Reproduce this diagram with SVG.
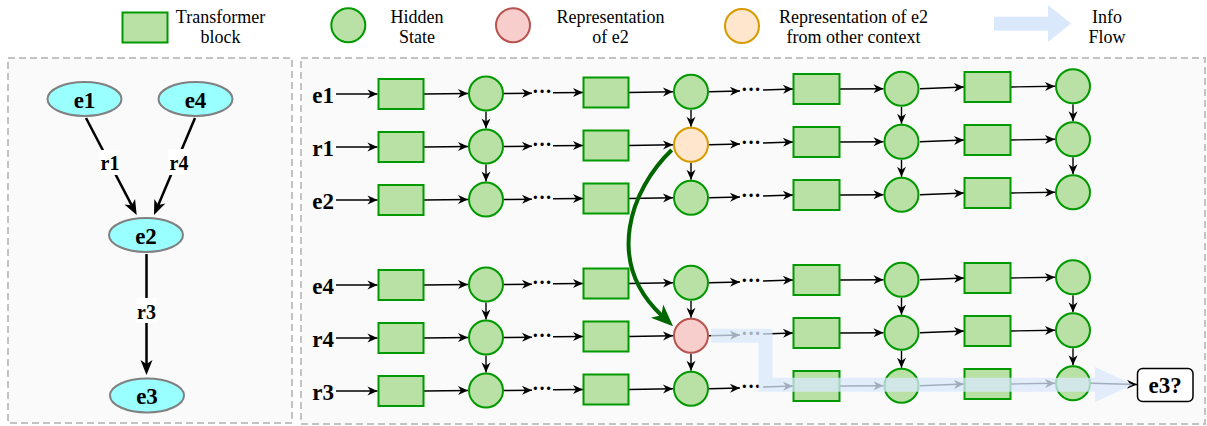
<svg xmlns="http://www.w3.org/2000/svg" width="1207" height="426" viewBox="0 0 1207 426">
<defs>
<style>
.panel{fill:#fafafa;stroke:#c3c3c3;stroke-width:2;stroke-dasharray:7 4}
.g{fill:#b9e0a5;stroke:#009900;stroke-width:2}
.red{fill:#f8cecc;stroke:#b85450;stroke-width:2}
.org{fill:#ffe6cc;stroke:#d79b00;stroke-width:2}
.ent{fill:#99ffff;stroke:#808080;stroke-width:2}
.leg{font-family:"Liberation Serif","Times New Roman",serif;font-size:18px;fill:#000;text-anchor:middle}
.lbl{font-family:"Liberation Serif","Times New Roman",serif;font-weight:bold;font-size:23px;fill:#000}
.el{font-family:"Liberation Serif","Times New Roman",serif;font-weight:bold;font-size:20px;fill:#000;text-anchor:middle}
.dots{font-family:"Liberation Serif","Times New Roman",serif;font-weight:bold;font-size:20px;fill:#000;text-anchor:middle}
.a{stroke:#000;stroke-width:1.4;fill:none;marker-end:url(#ah)}
.ab{stroke:#000;stroke-width:2.5;fill:none;marker-end:url(#ahb)}
.flow{fill:#dae8fc}
</style>
<marker id="ah" markerUnits="userSpaceOnUse" markerWidth="10" markerHeight="9" refX="10" refY="4.5" orient="auto" viewBox="0 0 10 9" overflow="visible"><path d="M0,0 L10,4.5 L0,9 L3,4.5 z" fill="#000"/></marker>
<marker id="ahb" markerUnits="userSpaceOnUse" markerWidth="15" markerHeight="12" refX="4" refY="6" orient="auto" viewBox="0 0 15 12" overflow="visible"><path d="M0,0 L15,6 L0,12 L4,6 z" fill="#000"/></marker>
<marker id="ahg" markerUnits="userSpaceOnUse" markerWidth="22" markerHeight="18" refX="6" refY="9" orient="auto" viewBox="0 0 22 18" overflow="visible"><path d="M0,0 L22,9 L0,18 L6,9 z" fill="#006600"/></marker>
</defs>

<!-- Legend -->
<g id="legend">
  <rect class="g" x="122.5" y="12.5" width="45" height="30"/>
  <text class="leg" x="220.5" y="22.5">Transformer</text>
  <text class="leg" x="220.5" y="43">block</text>
  <circle class="g" cx="348.3" cy="25.3" r="17"/>
  <text class="leg" x="417" y="22.5">Hidden</text>
  <text class="leg" x="417" y="43">State</text>
  <circle class="red" cx="513" cy="25.3" r="17"/>
  <text class="leg" x="610.5" y="22.5">Representation</text>
  <text class="leg" x="610.5" y="43">of e2</text>
  <circle class="org" cx="742" cy="26" r="17"/>
  <text class="leg" x="853.5" y="22.5">Representation of e2</text>
  <text class="leg" x="853.5" y="43">from other context</text>
  <rect class="flow" x="994" y="16.7" width="55" height="14"/>
  <polygon class="flow" points="1048,5 1071,23.5 1048,42"/>
  <text class="leg" x="1107" y="22.5">Info</text>
  <text class="leg" x="1107" y="43">Flow</text>
</g>

<!-- Panels -->
<rect class="panel" x="8" y="58" width="284" height="365"/>
<rect class="panel" x="301" y="58" width="904" height="366"/>

<!-- Left panel graph -->
<g id="kg-edges">
  <path class="ab" d="M86,118 L131.6,205.2"/>
  <path class="ab" d="M195,118 L158.3,204.9"/>
  <path class="ab" d="M146.5,254 L146.5,364"/>
  <rect x="99.5" y="150" width="20" height="25" fill="#fff"/>
  <text class="el" x="110" y="170">r1</text>
  <rect x="168.5" y="149" width="21" height="26" fill="#fff"/>
  <text class="el" x="179" y="170">r4</text>
  <rect x="136.5" y="298" width="20" height="25" fill="#fff"/>
  <text class="el" x="146.5" y="318.5">r3</text>
</g>
<g id="kg-e1"><ellipse class="ent" cx="84.5" cy="99" rx="37" ry="17"/><text class="lbl" x="84.5" y="107.5" text-anchor="middle">e1</text></g>
<g id="kg-e4"><ellipse class="ent" cx="195.5" cy="99" rx="37" ry="17"/><text class="lbl" x="195.5" y="107.5" text-anchor="middle">e4</text></g>
<g id="kg-e2"><ellipse class="ent" cx="146" cy="235" rx="37" ry="17"/><text class="lbl" x="146" y="243.5" text-anchor="middle">e2</text></g>
<g id="kg-e3"><ellipse class="ent" cx="147" cy="395.5" rx="37" ry="17"/><text class="lbl" x="147" y="404" text-anchor="middle">e3</text></g>

<!-- Connectors of the right panel -->
<g id="connectors">
  <!-- row e1 R=94 -->
  <path class="a" d="M336,94 H377.5"/>
  <path class="a" d="M424,94 L468,93.5"/>
  <path class="a" d="M504,93.5 L532,93.2"/>
  <path class="a" d="M553,92.8 L583,92.5"/>
  <path class="a" d="M629,92.5 L673,91.8"/>
  <path class="a" d="M709,91.8 L740,91"/>
  <path class="a" d="M763,90 L793,89"/>
  <path class="a" d="M840,89 L883.5,88.8"/>
  <path class="a" d="M920,88.8 L964,87"/>
  <path class="a" d="M1011,87 L1055,86.3"/>
  <!-- row r1 R=147 -->
  <path class="a" d="M336,147 H377.5"/>
  <path class="a" d="M424,147 L468,146.5"/>
  <path class="a" d="M504,146.5 L532,146.2"/>
  <path class="a" d="M553,145.8 L583,145.5"/>
  <path class="a" d="M629,145.5 L673,144.8"/>
  <path class="a" d="M709,144.8 L740,144"/>
  <path class="a" d="M763,143 L793,142"/>
  <path class="a" d="M840,142 L883.5,141.8"/>
  <path class="a" d="M920,141.8 L964,140"/>
  <path class="a" d="M1011,140 L1055,139.3"/>
  <!-- row e2 R=200 -->
  <path class="a" d="M336,200 H377.5"/>
  <path class="a" d="M424,200 L468,199.5"/>
  <path class="a" d="M504,199.5 L532,199.2"/>
  <path class="a" d="M553,198.8 L583,198.5"/>
  <path class="a" d="M629,198.5 L673,197.8"/>
  <path class="a" d="M709,197.8 L740,197"/>
  <path class="a" d="M763,196 L793,195"/>
  <path class="a" d="M840,195 L883.5,194.8"/>
  <path class="a" d="M920,194.8 L964,193"/>
  <path class="a" d="M1011,193 L1055,192.3"/>
  <!-- row e4 R=285 -->
  <path class="a" d="M336,285 H377.5"/>
  <path class="a" d="M424,285 L468,284.5"/>
  <path class="a" d="M504,284.5 L532,284.2"/>
  <path class="a" d="M553,283.8 L583,283.5"/>
  <path class="a" d="M629,283.5 L673,282.8"/>
  <path class="a" d="M709,282.8 L740,282"/>
  <path class="a" d="M763,281 L793,280"/>
  <path class="a" d="M840,280 L883.5,279.8"/>
  <path class="a" d="M920,279.8 L964,278"/>
  <path class="a" d="M1011,278 L1055,277.3"/>
  <!-- row r4 R=338 -->
  <path class="a" d="M336,338 H377.5"/>
  <path class="a" d="M424,338 L468,337.5"/>
  <path class="a" d="M504,337.5 L532,337.2"/>
  <path class="a" d="M553,336.8 L583,336.5"/>
  <path class="a" d="M629,336.5 L673,335.8"/>
  <path class="a" d="M709,335.8 L740,335"/>
  <path class="a" d="M763,334 L793,333"/>
  <path class="a" d="M840,333 L883.5,332.8"/>
  <path class="a" d="M920,332.8 L964,331"/>
  <path class="a" d="M1011,331 L1055,330.3"/>
  <!-- row r3 R=391 -->
  <path class="a" d="M336,391 H377.5"/>
  <path class="a" d="M424,391 L468,390.5"/>
  <path class="a" d="M504,390.5 L532,390.2"/>
  <path class="a" d="M553,389.8 L583,389.5"/>
  <path class="a" d="M629,389.5 L673,388.8"/>
  <path class="a" d="M709,388.8 L740,388"/>
  <path class="a" d="M763,387 L793,386"/>
  <path class="a" d="M840,386 L883.5,385.8"/>
  <path class="a" d="M920,385.8 L964,384"/>
  <path class="a" d="M1011,384 L1055,383.3"/>
  <path class="a" d="M1091,383.3 L1137,384.5"/>
  <!-- vertical arrows -->
  <path class="a" d="M486,111.5 V128.5"/>
  <path class="a" d="M486,164.5 V181.5"/>
  <path class="a" d="M486,302.5 V319.5"/>
  <path class="a" d="M486,355.5 V372.5"/>
  <path class="a" d="M691,109.8 V126.8"/>
  <path class="a" d="M691,162.8 V179.8"/>
  <path class="a" d="M691,300.8 V317.8"/>
  <path class="a" d="M691,353.8 V370.8"/>
  <path class="a" d="M901.5,106.8 V123.8"/>
  <path class="a" d="M901.5,159.8 V176.8"/>
  <path class="a" d="M901.5,297.8 V314.8"/>
  <path class="a" d="M901.5,350.8 V367.8"/>
  <path class="a" d="M1073,104.3 V121.3"/>
  <path class="a" d="M1073,157.3 V174.3"/>
  <path class="a" d="M1073,295.3 V312.3"/>
  <path class="a" d="M1073,348.3 V365.3"/>
</g>

<!-- Row labels -->
<g id="row-labels">
  <text class="lbl" x="334" y="103" text-anchor="end">e1</text>
  <text class="lbl" x="334" y="156" text-anchor="end">r1</text>
  <text class="lbl" x="334" y="209" text-anchor="end">e2</text>
  <text class="lbl" x="334" y="294" text-anchor="end">e4</text>
  <text class="lbl" x="334" y="347" text-anchor="end">r4</text>
  <text class="lbl" x="334" y="400" text-anchor="end">r3</text>
</g>

<!-- Ellipsis dots -->
<g id="dots">
  <text class="dots" x="542" y="98">···</text>
  <text class="dots" x="751" y="96">···</text>
  <text class="dots" x="542" y="151">···</text>
  <text class="dots" x="751" y="149">···</text>
  <text class="dots" x="542" y="204">···</text>
  <text class="dots" x="751" y="202">···</text>
  <text class="dots" x="542" y="289">···</text>
  <text class="dots" x="751" y="287">···</text>
  <text class="dots" x="542" y="342">···</text>
  <text class="dots" x="751" y="340">···</text>
  <text class="dots" x="542" y="395">···</text>
  <text class="dots" x="751" y="393">···</text>
</g>

<!-- Transformer blocks -->
<g id="blocks-c1">
  <rect id="b1-1" class="g" x="378.5" y="79" width="45" height="30"/>
  <rect id="b1-2" class="g" x="378.5" y="132" width="45" height="30"/>
  <rect id="b1-3" class="g" x="378.5" y="185" width="45" height="30"/>
  <rect id="b1-4" class="g" x="378.5" y="270" width="45" height="30"/>
  <rect id="b1-5" class="g" x="378.5" y="323" width="45" height="30"/>
  <rect id="b1-6" class="g" x="378.5" y="376" width="45" height="30"/>
</g>
<g id="blocks-c2">
  <rect id="b2-1" class="g" x="583.5" y="77.5" width="45" height="30"/>
  <rect id="b2-2" class="g" x="583.5" y="130.5" width="45" height="30"/>
  <rect id="b2-3" class="g" x="583.5" y="183.5" width="45" height="30"/>
  <rect id="b2-4" class="g" x="583.5" y="268.5" width="45" height="30"/>
  <rect id="b2-5" class="g" x="583.5" y="321.5" width="45" height="30"/>
  <rect id="b2-6" class="g" x="583.5" y="374.5" width="45" height="30"/>
</g>
<g id="blocks-c3">
  <rect id="b3-1" class="g" x="793.5" y="74" width="46" height="30"/>
  <rect id="b3-2" class="g" x="793.5" y="127" width="46" height="30"/>
  <rect id="b3-3" class="g" x="793.5" y="180" width="46" height="30"/>
  <rect id="b3-4" class="g" x="793.5" y="265" width="46" height="30"/>
  <rect id="b3-5" class="g" x="793.5" y="318" width="46" height="30"/>
  <rect id="b3-6" class="g" x="793.5" y="371" width="46" height="30"/>
</g>
<g id="blocks-c4">
  <rect id="b4-1" class="g" x="964.5" y="72" width="46" height="30"/>
  <rect id="b4-2" class="g" x="964.5" y="125" width="46" height="30"/>
  <rect id="b4-3" class="g" x="964.5" y="178" width="46" height="30"/>
  <rect id="b4-4" class="g" x="964.5" y="263" width="46" height="30"/>
  <rect id="b4-5" class="g" x="964.5" y="316" width="46" height="30"/>
  <rect id="b4-6" class="g" x="964.5" y="369" width="46" height="30"/>
</g>

<!-- Hidden states -->
<g id="states-c1">
  <circle id="h1-1" class="g" cx="486" cy="93.5" r="17"/>
  <circle id="h1-2" class="g" cx="486" cy="146.5" r="17"/>
  <circle id="h1-3" class="g" cx="486" cy="199.5" r="17"/>
  <circle id="h1-4" class="g" cx="486" cy="284.5" r="17"/>
  <circle id="h1-5" class="g" cx="486" cy="337.5" r="17"/>
  <circle id="h1-6" class="g" cx="486" cy="390.5" r="17"/>
</g>
<g id="states-c2">
  <circle id="h2-1" class="g" cx="691" cy="91.8" r="17"/>
  <circle id="h2-2" class="org" cx="691" cy="144.8" r="17"/>
  <circle id="h2-3" class="g" cx="691" cy="197.8" r="17"/>
  <circle id="h2-4" class="g" cx="691" cy="282.8" r="17"/>
  <circle id="h2-5" class="red" cx="691" cy="335.8" r="17"/>
  <circle id="h2-6" class="g" cx="691" cy="388.8" r="17"/>
</g>
<g id="states-c3">
  <circle id="h3-1" class="g" cx="901.5" cy="88.8" r="17"/>
  <circle id="h3-2" class="g" cx="901.5" cy="141.8" r="17"/>
  <circle id="h3-3" class="g" cx="901.5" cy="194.8" r="17"/>
  <circle id="h3-4" class="g" cx="901.5" cy="279.8" r="17"/>
  <circle id="h3-5" class="g" cx="901.5" cy="332.8" r="17"/>
  <circle id="h3-6" class="g" cx="901.5" cy="385.8" r="17"/>
</g>
<g id="states-c4">
  <circle id="h4-1" class="g" cx="1073" cy="86.3" r="17"/>
  <circle id="h4-2" class="g" cx="1073" cy="139.3" r="17"/>
  <circle id="h4-3" class="g" cx="1073" cy="192.3" r="17"/>
  <circle id="h4-4" class="g" cx="1073" cy="277.3" r="17"/>
  <circle id="h4-5" class="g" cx="1073" cy="330.3" r="17"/>
  <circle id="h4-6" class="g" cx="1073" cy="383.3" r="17"/>
</g>

<!-- Green transfer curve -->
<g id="transfer">
  <path d="M671.7,150 C630,190 605,262 661.4,315.2" fill="none" stroke="#006600" stroke-width="4" marker-end="url(#ahg)"/>
</g>

<!-- Info flow band -->
<g id="info-flow" opacity="0.75">
  <path d="M711,335.8 H765.5 V384.7 H1096" fill="none" stroke="#dae8fc" stroke-width="14" stroke-linejoin="miter"/>
  <polygon points="1095,367 1133,384.7 1095,402" fill="#dae8fc"/>
</g>

<!-- Query node -->
<g id="query">
  <rect x="1137.5" y="368.5" width="55.5" height="33" rx="5" fill="#fff" stroke="#000" stroke-width="1.5"/>
  <text class="lbl" x="1165.2" y="393" text-anchor="middle">e3?</text>
</g>
</svg>
